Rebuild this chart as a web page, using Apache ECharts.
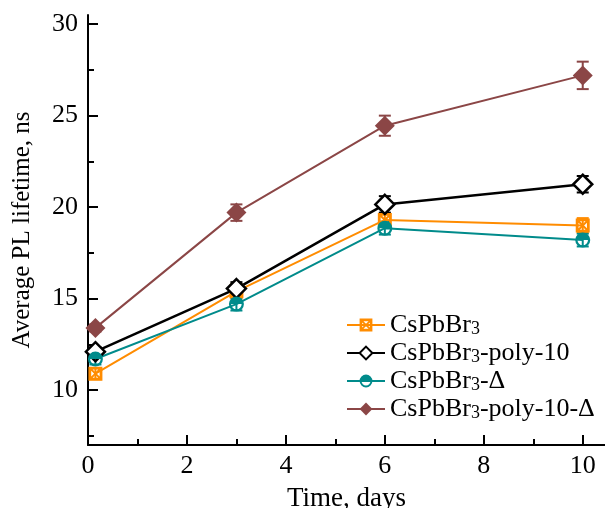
<!DOCTYPE html>
<html>
<head>
<meta charset="utf-8">
<script src="https://cdn.jsdelivr.net/npm/echarts@6/dist/echarts.min.js"></script>
<style>
  html, body { margin: 0; padding: 0; background: #fff; }
  #chart { width: 605px; height: 508px; }
</style>
</head>
<body>
<div id="chart"></div>
<script>
// data
var days = [0.15, 3, 6, 10];
var seriesNames = ['CsPbBr3', 'CsPbBr3-poly-10', 'CsPbBr3-Δ', 'CsPbBr3-poly-10-Δ'];
var cspbbr3 = [10.9, 15.4, 19.3, 19.0];
var cspbbr3Err = [0.3, 0.4, 0.35, 0.4];
var poly10 = [12.1, 15.55, 20.15, 21.25];
var poly10Err = [0.25, 0.35, 0.45, 0.45];
var delta = [11.7, 14.7, 18.85, 18.2];
var deltaErr = [0.3, 0.35, 0.35, 0.35];
var poly10Delta = [13.4, 19.7, 24.45, 27.2];
var poly10DeltaErr = [0.2, 0.45, 0.55, 0.75];

// tick labels
var xMajor = [0, 2, 4, 6, 8, 10];
var xMinor = [1, 3, 5, 7, 9];
var yMajor = [10, 15, 20, 25, 30];
var yMinor = [7.5, 12.5, 17.5, 22.5, 27.5];

var colors = ['#ff8c00', '#000000', '#008b8b', '#8b4646'];
var font = 'Liberation Serif';

// marker shapes
var hatchSquare = 'path://M0,0 L20,0 L20,20 L0,20 Z M4,4 L4,16 L16,16 L16,4 Z ' +
  'M4,4 L6,4 L16,14 L16,16 L14,16 L4,6 Z M16,4 L16,6 L6,16 L4,16 L4,14 L14,4 Z';
var halfCircle = 'path://M0,-10 A10,10 0 1,1 0,10 A10,10 0 1,1 0,-10 Z M-7,0 A7,7 0 0,0 7,0 Z';

function errData(vals, errs) {
  return days.map(function (d, i) { return [d, vals[i] - errs[i], vals[i] + errs[i]]; });
}

function errSeries(vals, errs, color) {
  return {
    type: 'custom',
    data: errData(vals, errs),
    encode: { x: 0, y: [1, 2] },
    z: 3,
    silent: true,
    renderItem: function (params, api) {
      var x = api.value(0);
      var top = api.coord([x, api.value(2)]);
      var bot = api.coord([x, api.value(1)]);
      var w = 6;
      var st = { stroke: color, lineWidth: 2 };
      return {
        type: 'group',
        children: [
          { type: 'line', shape: { x1: top[0], y1: top[1], x2: bot[0], y2: bot[1] }, style: st },
          { type: 'line', shape: { x1: top[0] - w, y1: top[1], x2: top[0] + w, y2: top[1] }, style: st },
          { type: 'line', shape: { x1: bot[0] - w, y1: bot[1], x2: bot[0] + w, y2: bot[1] }, style: st }
        ]
      };
    }
  };
}

function lineSeries(name, vals, color, symbol, size, extra) {
  var s = {
    name: name,
    type: 'line',
    data: days.map(function (d, i) { return [d, vals[i]]; }),
    symbol: symbol,
    symbolSize: size,
    showAllSymbol: true,
    z: 4,
    lineStyle: { color: color, width: 2 },
    itemStyle: { color: color, borderColor: color, borderWidth: 0 },
    emphasis: { disabled: true }
  };
  if (extra) {
    for (var k in extra) s[k] = extra[k];
  }
  return s;
}

var chart = echarts.init(document.getElementById('chart'));

var option = {
  animation: false,
  backgroundColor: '#fff',
  grid: { left: 88, right: 0, top: 15, bottom: 63, outerBoundsMode: 'none' },
  legend: {
    data: seriesNames,
    orient: 'vertical',
    left: 341,
    top: 305,
    itemWidth: 38,
    itemHeight: 16,
    itemGap: 0,
    formatter: function (name) {
      return name.replace('CsPbBr3', 'CsPbBr{sub|3}');
    },
    textStyle: {
      fontFamily: font,
      fontSize: 26,
      lineHeight: 26,
      color: '#000',
      rich: {
        sub: { fontFamily: font, fontSize: 18, lineHeight: 26, verticalAlign: 'bottom', padding: [10, 0, 0, 0] }
      }
    }
  },
  xAxis: [{
    type: 'value',
    min: 0,
    max: 10.45,
    name: 'Time, days',
    nameLocation: 'middle',
    nameGap: 40,
    nameTextStyle: { fontFamily: font, fontSize: 27, color: '#000' },
    axisLine: { lineStyle: { color: '#000', width: 2 } },
    axisTick: { inside: true, length: 10, customValues: xMajor, lineStyle: { color: '#000', width: 2 } },
    axisLabel: { customValues: xMajor, margin: 8, fontFamily: font, fontSize: 26, color: '#000' },
    splitLine: { show: false }
  }, {
    type: 'value',
    position: 'bottom',
    min: 0,
    max: 10.45,
    axisLine: { show: false },
    axisTick: { inside: true, length: 6, customValues: xMinor, lineStyle: { color: '#000', width: 2 } },
    axisLabel: { show: false },
    splitLine: { show: false }
  }],
  yAxis: [{
    type: 'value',
    min: 7,
    max: 30.5,
    name: 'Average PL lifetime, ns',
    nameLocation: 'middle',
    nameRotate: 90,
    nameGap: 53,
    nameTextStyle: { fontFamily: font, fontSize: 25, color: '#000' },
    axisLine: { show: true, lineStyle: { color: '#000', width: 2 } },
    axisTick: { show: true, inside: true, length: 10, customValues: yMajor, lineStyle: { color: '#000', width: 2 } },
    axisLabel: { customValues: yMajor, margin: 10, fontFamily: font, fontSize: 26, color: '#000' },
    splitLine: { show: false }
  }, {
    type: 'value',
    position: 'left',
    min: 7,
    max: 30.5,
    axisLine: { show: false },
    axisTick: { show: true, inside: true, length: 6, customValues: yMinor, lineStyle: { color: '#000', width: 2 } },
    axisLabel: { show: false },
    splitLine: { show: false }
  }],
  series: [
    lineSeries(seriesNames[0], cspbbr3, colors[0], hatchSquare, 14),
    lineSeries(seriesNames[1], poly10, colors[1], 'diamond', 19,
      { itemStyle: { color: '#fff', borderColor: colors[1], borderWidth: 2.5 }, lineStyle: { color: colors[1], width: 2.5 } }),
    lineSeries(seriesNames[2], delta, colors[2], halfCircle, 15),
    lineSeries(seriesNames[3], poly10Delta, colors[3], 'diamond', 20)
  ].concat([
    errSeries(cspbbr3, cspbbr3Err, colors[0]),
    errSeries(poly10, poly10Err, colors[1]),
    errSeries(delta, deltaErr, colors[2]),
    errSeries(poly10Delta, poly10DeltaErr, colors[3])
  ])
};

chart.setOption(option);
</script>
</body>
</html>
